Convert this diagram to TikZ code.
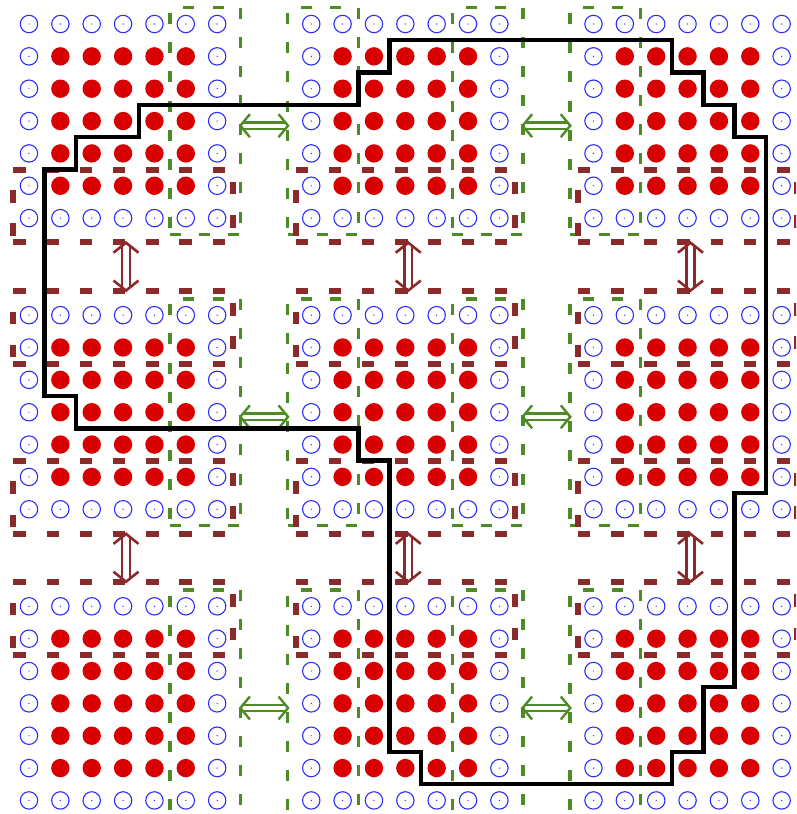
\documentclass[tikz,border=0pt]{standalone}
\definecolor{ptblue}{RGB}{45,45,250}
\definecolor{ptred}{RGB}{216,0,0}
\definecolor{hgreen}{RGB}{78,138,38}
\definecolor{hbrown}{RGB}{138,42,42}
\tikzset{
  bluept/.style={circle, draw=ptblue, line width=1.1pt, minimum size=17.4pt, inner sep=0pt,
    path picture={\fill[ptblue] (path picture bounding box.center) circle (0.7pt);}},
  redpt/.style={circle, fill=ptred, minimum size=18.4pt, inner sep=0pt},
  gdash/.style={hgreen, line width=3.3pt, dash pattern=on 11pt off 18.1pt},
  bdash/.style={hbrown, line width=6pt, dash pattern=on 12.5pt off 20.7pt},
  garrow/.style={hgreen, line width=2.4pt, double=white, double distance=4pt, shorten <=2.7pt, shorten >=2.7pt},
  ghead/.style={hgreen, line width=2.4pt, line join=miter},
  barrow/.style={hbrown, line width=2.6pt, double=white, double distance=5.2pt, shorten <=3.1pt, shorten >=3.1pt},
  bhead/.style={hbrown, line width=2.6pt, line join=miter},
  rankline/.style={black, line width=4.5pt, line join=miter},
}
\newcommand\greenhalo[4]{%
  \draw[gdash, dash phase=15.8pt] (#1,#2) -- (#3,#2);
  \draw[gdash, dash phase=0pt] (#3,#2) -- (#3,#4);
  \draw[gdash, dash phase=0pt] (#1,#4) -- (#3,#4);
  \draw[gdash, dash phase=23.7pt] (#1,#2) -- (#1,#4);
}
\newcommand\brownhalo[4]{%
  \draw[bdash, dash phase=0pt] (#1,#2) -- (#3,#2);
  \draw[bdash, dash phase=0pt] (#1,#4) -- (#3,#4);
  \draw[bdash, dash phase=20.8pt] (#3,#2) -- (#3,#4);
  \draw[bdash, dash phase=12.5pt] (#1,#2) -- (#1,#4);
}
\begin{document}
\begin{tikzpicture}[x=31.36pt, y=-32.35pt]
\useasboundingbox (-0.9247,-0.7419) rectangle (24.458,24.420);
\clip (-0.9247,-0.7419) rectangle (24.458,24.420);
% grid points
\foreach \bi in {0,1,2}{
 \foreach \bj in {0,1,2}{
  \foreach \a in {0,...,6}{
   \foreach \b in {0,...,6}{
     \pgfmathtruncatemacro\ii{9*\bi+\a}
     \pgfmathtruncatemacro\jj{9*\bj+\b}
     \pgfmathtruncatemacro\ptin{(\a>0)*(\a<6)*(\b>0)*(\b<6)}
     \ifnum\ptin=1
       \node[redpt] (p-\ii-\jj) at (\ii,\jj) {};
     \else
       \node[bluept] (p-\ii-\jj) at (\ii,\jj) {};
     \fi
   }}}}
% green halos (vertical)
\foreach \bj in {0,1,2}{
  \pgfmathsetmacro\ya{9*\bj-0.5}
  \pgfmathsetmacro\yb{9*\bj+6.5}
  \foreach \xa/\xb in {4.5/6.75, 8.25/10.5, 13.5/15.75, 17.25/19.5}{
    \greenhalo{\xa}{\ya}{\xb}{\yb}
  }
}
% brown halos (horizontal)
\foreach \bi in {0,1,2}{
  \pgfmathsetmacro\xa{9*\bi-0.5}
  \pgfmathsetmacro\xb{9*\bi+6.5}
  \foreach \ya/\yb in {4.5/6.75, 8.25/10.5, 13.5/15.75, 17.25/19.5}{
    \brownhalo{\xa}{\ya}{\xb}{\yb}
  }
}
% green exchange arrows
\foreach \bj in {0,1,2}{
  \foreach \k in {0,1}{
    \pgfmathsetmacro\yy{9*\bj+3.143}
    \pgfmathsetmacro\xl{9*\k+6.74}
    \pgfmathsetmacro\xr{9*\k+8.26}
    \coordinate (gw-\k-\bj) at (\xl,\yy);
    \coordinate (ge-\k-\bj) at (\xr,\yy);
    \draw[garrow] (gw-\k-\bj) -- (ge-\k-\bj);
    \draw[ghead] (gw-\k-\bj) ++(9.5pt,11.5pt) -- (gw-\k-\bj) -- ++(9.5pt,-11.5pt);
    \draw[ghead] (ge-\k-\bj) ++(-9.5pt,11.5pt) -- (ge-\k-\bj) -- ++(-9.5pt,-11.5pt);
  }
}
% brown exchange arrows
\foreach \bi in {0,1,2}{
  \foreach \k in {0,1}{
    \pgfmathsetmacro\xx{9*\bi+3.093}
    \pgfmathsetmacro\yt{9*\k+6.76}
    \pgfmathsetmacro\ybt{9*\k+8.24}
    \coordinate (bn-\bi-\k) at (\xx,\yt);
    \coordinate (bs-\bi-\k) at (\xx,\ybt);
    \draw[barrow] (bn-\bi-\k) -- (bs-\bi-\k);
    \draw[bhead] (bn-\bi-\k) ++(-12.5pt,-10pt) -- (bn-\bi-\k) -- ++(12.5pt,-10pt);
    \draw[bhead] (bs-\bi-\k) ++(-12.5pt,10pt) -- (bs-\bi-\k) -- ++(12.5pt,10pt);
  }
}
% subdomain boundary
\draw[rankline] (0.5,4.5) -- (1.5,4.5) -- (1.5,3.5) -- (3.5,3.5) -- (3.5,2.5) -- (10.5,2.5)
  -- (10.5,1.5) -- (11.5,1.5) -- (11.5,0.5) -- (20.5,0.5) -- (20.5,1.5) -- (21.5,1.5)
  -- (21.5,2.5) -- (22.5,2.5) -- (22.5,3.5) -- (23.5,3.5) -- (23.5,14.5) -- (22.5,14.5)
  -- (22.5,20.5) -- (21.5,20.5) -- (21.5,22.5) -- (20.5,22.5) -- (20.5,23.5) -- (12.5,23.5)
  -- (12.5,22.5) -- (11.5,22.5) -- (11.5,13.5) -- (10.5,13.5) -- (10.5,12.5) -- (1.5,12.5)
  -- (1.5,11.5) -- (0.5,11.5) -- cycle;
\end{tikzpicture}
\end{document}
